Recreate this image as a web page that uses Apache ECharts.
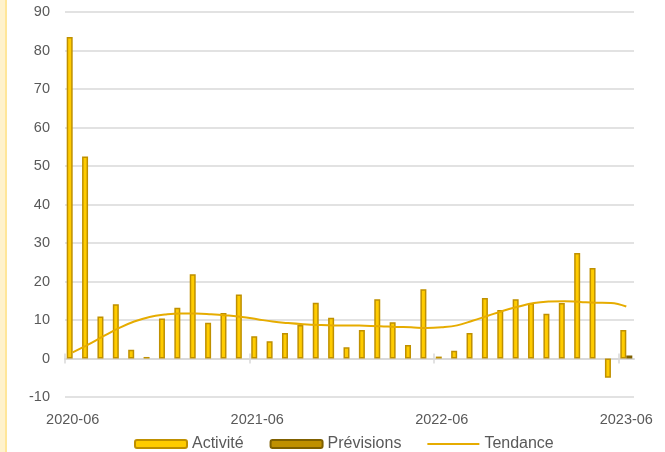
<!DOCTYPE html>
<html>
<head>
<meta charset="utf-8">
<script src="https://cdn.jsdelivr.net/npm/echarts@6/dist/echarts.min.js"></script>
<style>
  html, body { margin: 0; padding: 0; background: #ffffff; }
  #chart { width: 665px; height: 452px; }
</style>
</head>
<body>
<div id="chart"></div>
<script>
// Monthly categories, June 2020 to June 2023
const months = [
  '2020-06', '2020-07', '2020-08', '2020-09', '2020-10', '2020-11', '2020-12',
  '2021-01', '2021-02', '2021-03', '2021-04', '2021-05', '2021-06', '2021-07',
  '2021-08', '2021-09', '2021-10', '2021-11', '2021-12', '2022-01', '2022-02',
  '2022-03', '2022-04', '2022-05', '2022-06', '2022-07', '2022-08', '2022-09',
  '2022-10', '2022-11', '2022-12', '2023-01', '2023-02', '2023-03', '2023-04',
  '2023-05', '2023-06'
];

// Observed activity
const activite = [
  83.5, 52.5, 10.9, 14.1, 2.3, 0.4, 10.4, 13.2, 21.9, 9.3, 11.8, 16.6,
  5.8, 4.5, 6.6, 8.7, 14.5, 10.6, 2.9, 7.4, 15.4, 9.4, 3.5, 18.0,
  0.5, 2.0, 6.6, 15.7, 12.6, 15.4, 14.4, 11.6, 14.4, 27.4, 23.5, -5.0,
  7.4
];

// Forecast (last month only)
const previsions = [
  null, null, null, null, null, null, null, null, null, null, null, null,
  null, null, null, null, null, null, null, null, null, null, null, null,
  null, null, null, null, null, null, null, null, null, null, null, null,
  0.8
];

// Smoothed trend
const tendance = [
  1.6, 3.6, 5.8, 7.9, 9.6, 10.8, 11.4, 11.7, 11.7, 11.5, 11.2, 10.8,
  10.2, 9.6, 9.2, 8.9, 8.7, 8.6, 8.6, 8.5, 8.4, 8.2, 8.1, 7.9,
  8.1, 8.6, 9.8, 11.1, 12.4, 13.5, 14.4, 14.8, 14.9, 14.7, 14.5, 14.4,
  13.5
];

// Year boundaries (category index where each year starts)
const yearTicks = [0, 12, 24, 36];

const FONT = '"Liberation Sans", Arial, sans-serif';
const TEXT = '#595959';
const GRID = '#D9D9D9';

const chart = echarts.init(document.getElementById('chart'), null, { renderer: 'canvas' });

// value axes used only for the year tick marks crossing the zero line
const tickAxis = (inside) => ({
  type: 'value',
  gridIndex: 0,
  min: 0,
  max: months.length,
  position: 'bottom',
  axisLine: { show: false, onZero: true, onZeroAxisIndex: 0 },
  axisTick: {
    show: true,
    inside: inside,
    length: 5,
    customValues: yearTicks,
    lineStyle: { color: GRID, width: 1.5 }
  },
  axisLabel: { show: false },
  splitLine: { show: false }
});

chart.setOption({
  animation: false,
  backgroundColor: '#ffffff',
  graphic: [
    { type: 'rect', shape: { x: 0, y: 0, width: 5, height: 452 }, style: { fill: '#FFF2CC' }, silent: true },
    { type: 'rect', shape: { x: 5, y: 0, width: 2, height: 452 }, style: { fill: '#FFE699' }, silent: true }
  ],
  grid: { left: 65, right: 31, top: 12, bottom: 55, containLabel: false },
  legend: {
    left: 129,
    top: 431,
    itemWidth: 52,
    itemHeight: 8,
    itemGap: 26,
    textStyle: { fontFamily: FONT, fontSize: 16, color: TEXT, padding: [6, 0, 0, 0] },
    data: [
      { name: 'Activité' },
      { name: 'Prévisions' },
      { name: 'Tendance', icon: 'path://M0,0 L52,0 L52,2 L0,2 Z' }
    ]
  },
  xAxis: [
    {
      // category axis carrying the bars, drawn on the zero line
      type: 'category',
      data: months,
      position: 'bottom',
      axisLine: { show: true, onZero: true, onZeroAxisIndex: 0, lineStyle: { color: GRID, width: 2 } },
      axisTick: { show: false },
      axisLabel: { show: false },
      splitLine: { show: false }
    },
    tickAxis(false),
    tickAxis(true),
    {
      // yearly labels along the bottom edge
      type: 'category',
      data: months,
      position: 'bottom',
      axisLine: { show: false, onZero: false },
      axisTick: { show: false },
      axisLabel: {
        show: true,
        interval: 11,
        margin: 15,
        fontFamily: FONT,
        fontSize: 14.5,
        color: TEXT
      },
      splitLine: { show: false }
    }
  ],
  yAxis: {
    type: 'value',
    min: -10,
    max: 90,
    interval: 10,
    axisLine: { show: false },
    axisTick: { show: false },
    axisLabel: { margin: 15, fontFamily: FONT, fontSize: 14.5, color: TEXT },
    splitLine: { show: true, lineStyle: { color: GRID, width: 1.5 } }
  },
  series: [
    {
      name: 'Activité',
      type: 'bar',
      xAxisIndex: 0,
      data: activite,
      barWidth: 6,
      barGap: '0%',
      itemStyle: { color: '#FFCC00', borderColor: '#BF9000', borderWidth: 1.5 },
      z: 2
    },
    {
      name: 'Prévisions',
      type: 'bar',
      xAxisIndex: 0,
      data: previsions,
      barWidth: 6,
      barGap: '0%',
      itemStyle: { color: '#BF9000', borderColor: '#7F6000', borderWidth: 1.5 },
      z: 2
    },
    {
      name: 'Tendance',
      type: 'line',
      xAxisIndex: 0,
      data: tendance,
      smooth: 0.4,
      symbol: 'none',
      lineStyle: { color: '#E6AC00', width: 2 },
      itemStyle: { color: '#E6AC00' },
      z: 3
    }
  ]
});
</script>
</body>
</html>
